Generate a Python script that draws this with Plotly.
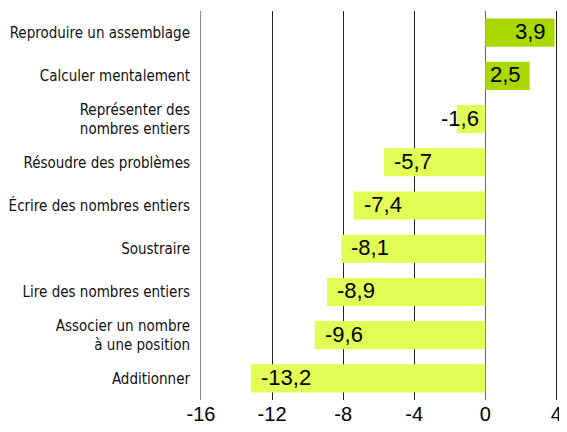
import plotly.graph_objects as go

categories = [
    "Reproduire un assemblage",
    "Calculer mentalement",
    "Représenter des<br>nombres entiers",
    "Résoudre des problèmes",
    "Écrire des nombres entiers",
    "Soustraire",
    "Lire des nombres entiers",
    "Associer un nombre<br>à une position",
    "Additionner",
]
values = [3.9, 2.5, -1.6, -5.7, -7.4, -8.1, -8.9, -9.6, -13.2]
tick_vals = [-16, -12, -8, -4, 0, 4]

POS = "#aad800"
NEG = "#e1fd55"
colors = [POS if v > 0 else NEG for v in values]
labels = [f"{v:.1f}".replace(".", ",") for v in values]

VALUE_FONT = dict(family="Liberation Sans, Arial, sans-serif", size=22, color="#000")

fig = go.Figure(go.Bar(
    x=values, y=categories, orientation="h",
    marker=dict(color=colors, line=dict(width=0)),
    width=0.65, hoverinfo="skip",
))

annotations = []
for c, v, t in zip(categories, values, labels):
    if v > 0:
        annotations.append(dict(x=v, y=c, text=t, xanchor="right", xshift=-7, showarrow=False))
    elif v > -3:
        annotations.append(dict(x=0, y=c, text=t, xanchor="right", xshift=-4, showarrow=False))
    else:
        annotations.append(dict(x=v, y=c, text=t, xanchor="left", xshift=8, showarrow=False))
for a in annotations:
    a["font"] = VALUE_FONT
    a["yshift"] = 1

fig.update_layout(
    width=551, height=416,
    margin=dict(l=193, r=0, t=3, b=24),
    paper_bgcolor="white", plot_bgcolor="white",
    showlegend=False,
    annotations=annotations,
    xaxis=dict(
        range=[-16, 4.15], tickvals=tick_vals,
        ticktext=[str(t) for t in tick_vals],
        showgrid=True, gridcolor="#222", gridwidth=1,
        zeroline=True, zerolinecolor="#666", zerolinewidth=1,
        showline=False, ticks="", ticklen=0,
        ticklabeloverflow="allow", automargin=False,
        ticklabelstandoff=0,
        tickfont=dict(family="Liberation Sans, Arial, sans-serif", size=20, color="#000"),
        fixedrange=True,
    ),
    yaxis=dict(
        autorange="reversed", automargin=False,
        showline=True, linecolor="#888", linewidth=1,
        ticks="", ticklabelstandoff=7,
        tickfont=dict(family="DejaVu Sans Condensed, Liberation Sans Narrow, sans-serif", size=15, color="#111"),
        fixedrange=True,
    ),
)

fig.write_html("out.html")
